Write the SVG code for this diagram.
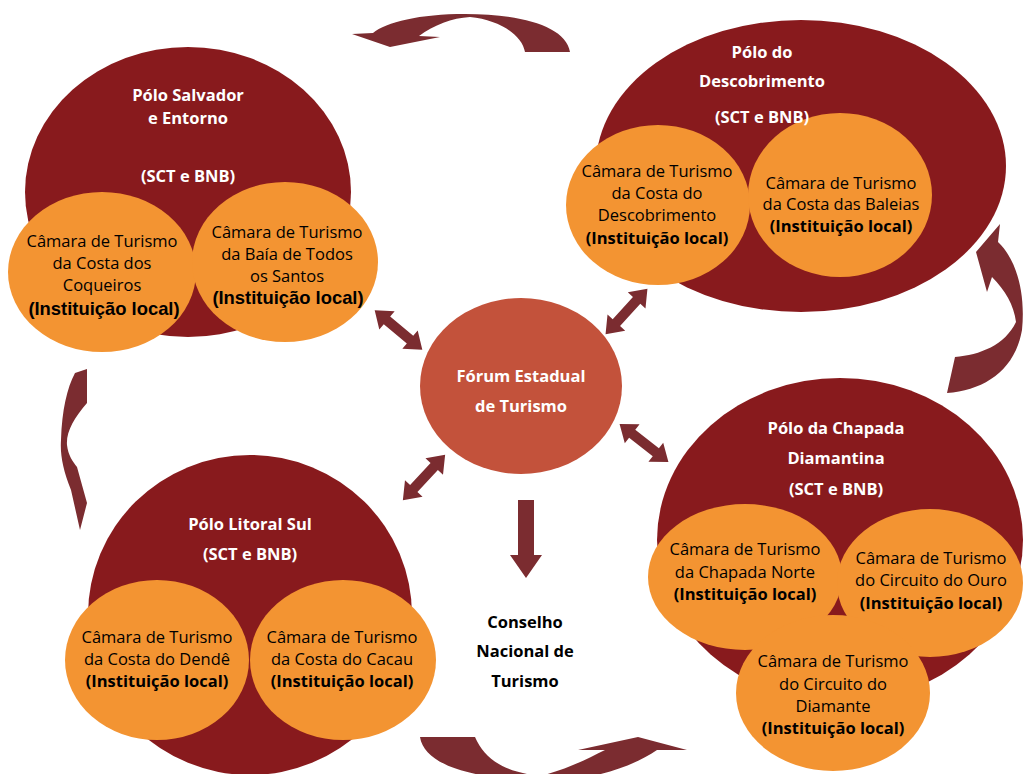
<svg xmlns="http://www.w3.org/2000/svg" xmlns:xlink="http://www.w3.org/1999/xlink" width="1024" height="774" viewBox="0 0 1024 774">
<defs>
<style>
.polo{fill:#881a1d}
.cam{fill:#f39432}
.forum{fill:#c3523b}
.arw{fill:#7b2c30}
.wt{font-family:"Open Sans","Liberation Sans",sans-serif;font-weight:bold;font-size:16.5px;fill:#ffffff;text-anchor:middle}
.bt{font-family:"Open Sans","Liberation Sans",sans-serif;font-weight:bold;font-size:16.5px;fill:#000000;text-anchor:middle}
.ct{font-family:"Open Sans","Liberation Sans",sans-serif;font-size:16.5px;fill:#000000;text-anchor:middle}
.cb{font-family:"Open Sans","Liberation Sans",sans-serif;font-weight:bold;font-size:16.5px;fill:#000000;text-anchor:middle}
.cba{font-family:"Liberation Sans",Arial,sans-serif;font-weight:bold;font-size:18.4px;fill:#000000;text-anchor:middle}
</style>
<path id="dbl" d="M-31,0 L-15,-12 L-15,-5 L15,-5 L15,-12 L31,0 L15,12 L15,5 L-15,5 L-15,12 Z"/>
</defs>
<rect width="1024" height="774" fill="#ffffff"/>

<g id="connectors" class="arw">
<path d="M570,52 C566,26 520,14 465,14 C420,14 386,22 373,33 L352,34 L390,47 L440,37 L419,36 C434,25 452,18 470,17 C500,20 522,35 525,52 Z"/>
<path d="M1000,224 L976,252 L987,292 L992,277 C1005,290 1014,305 1016,322 C1005,345 980,355 955,357 L947,393 C985,390 1015,370 1022,330 C1026,290 1015,258 998,242 Z"/>
<path d="M75,373 L87,369 L87,403 C74,418 66,432 67,445 C68,455 73,462 77,467 L87,503 L80,530 L71,490 C63,470 60,455 61,440 C62,410 67,388 75,373 Z"/>
<path d="M420,737 L475,737 C485,760 505,772 540,776 C565,770 585,760 605,750 L578,750 L638,737 L687,750 L657,750 C635,765 600,778 560,780 C490,782 425,770 420,737 Z"/>
<use xlink:href="#dbl" href="#dbl" transform="translate(398.5,330) rotate(39.8)"/>
<use xlink:href="#dbl" href="#dbl" transform="translate(626.5,311.5) rotate(-47.5)"/>
<use xlink:href="#dbl" href="#dbl" transform="translate(644,443) rotate(38)"/>
<use xlink:href="#dbl" href="#dbl" transform="translate(424,477.5) rotate(-47)"/>
<path d="M518,500 L534,500 L534,555 L542,555 L526,578 L510,555 L518,555 Z"/>
</g>

<g id="polo-salvador">
<ellipse class="polo" cx="188" cy="192" rx="163" ry="145"/>
<ellipse class="cam" cx="102" cy="272" rx="94" ry="80"/>
<ellipse class="cam" cx="285" cy="262" rx="93" ry="80"/>
<text class="wt" x="188" y="101">Pólo Salvador</text>
<text class="wt" x="188" y="124">e Entorno</text>
<text class="wt" x="188" y="182">(SCT e BNB)</text>
<text class="ct" x="102" y="247">Câmara de Turismo</text>
<text class="ct" x="102" y="269">da Costa dos</text>
<text class="ct" x="102" y="291">Coqueiros</text>
<text class="cba" x="104" y="315">(Instituição local)</text>
<text class="ct" x="287" y="238">Câmara de Turismo</text>
<text class="ct" x="287" y="260">da Baía de Todos</text>
<text class="ct" x="287" y="282">os Santos</text>
<text class="cba" x="288" y="304">(Instituição local)</text>
</g>

<g id="polo-descobrimento">
<ellipse class="polo" cx="801" cy="166" rx="205" ry="146"/>
<ellipse class="cam" cx="658" cy="205" rx="92" ry="80"/>
<ellipse class="cam" cx="840" cy="195" rx="92" ry="82"/>
<text class="wt" x="762" y="58">Pólo do</text>
<text class="wt" x="762" y="87">Descobrimento</text>
<text class="wt" x="762" y="123">(SCT e BNB)</text>
<text class="ct" x="657" y="177">Câmara de Turismo</text>
<text class="ct" x="657" y="199">da Costa do</text>
<text class="ct" x="657" y="221">Descobrimento</text>
<text class="cb" x="657" y="244">(Instituição local)</text>
<text class="ct" x="841" y="189">Câmara de Turismo</text>
<text class="ct" x="841" y="210">da Costa das Baleias</text>
<text class="cb" x="841" y="232">(Instituição local)</text>
</g>

<g id="polo-chapada">
<ellipse class="polo" cx="840" cy="540" rx="183" ry="162"/>
<ellipse class="cam" cx="745" cy="577" rx="97" ry="73"/>
<ellipse class="cam" cx="930" cy="583" rx="93" ry="74"/>
<ellipse class="cam" cx="833" cy="693" rx="97" ry="78"/>
<text class="wt" x="836" y="434">Pólo da Chapada</text>
<text class="wt" x="836" y="464">Diamantina</text>
<text class="wt" x="836" y="495">(SCT e BNB)</text>
<text class="ct" x="745" y="555">Câmara de Turismo</text>
<text class="ct" x="745" y="578">da Chapada Norte</text>
<text class="cb" x="745" y="600">(Instituição local)</text>
<text class="ct" x="931" y="564">Câmara de Turismo</text>
<text class="ct" x="931" y="586">do Circuito do Ouro</text>
<text class="cb" x="931" y="609">(Instituição local)</text>
<text class="ct" x="833" y="667">Câmara de Turismo</text>
<text class="ct" x="833" y="690">do Circuito do</text>
<text class="ct" x="833" y="712">Diamante</text>
<text class="cb" x="833" y="734">(Instituição local)</text>
</g>

<g id="polo-litoral-sul">
<ellipse class="polo" cx="250" cy="615" rx="162" ry="160"/>
<ellipse class="cam" cx="157" cy="660" rx="92" ry="80"/>
<ellipse class="cam" cx="343" cy="660" rx="93" ry="80"/>
<text class="wt" x="250" y="530">Pólo Litoral Sul</text>
<text class="wt" x="250" y="560">(SCT e BNB)</text>
<text class="ct" x="157" y="643">Câmara de Turismo</text>
<text class="ct" x="157" y="665">da Costa do Dendê</text>
<text class="cb" x="157" y="687">(Instituição local)</text>
<text class="ct" x="342" y="643">Câmara de Turismo</text>
<text class="ct" x="342" y="665">da Costa do Cacau</text>
<text class="cb" x="342" y="687">(Instituição local)</text>
</g>

<g id="forum">
<ellipse class="forum" cx="521" cy="386" rx="101" ry="88"/>
<text class="wt" x="521" y="382">Fórum Estadual</text>
<text class="wt" x="521" y="412">de Turismo</text>
</g>

<g id="conselho">
<text class="bt" x="525" y="628">Conselho</text>
<text class="bt" x="525" y="657">Nacional de</text>
<text class="bt" x="525" y="687">Turismo</text>
</g>
</svg>
